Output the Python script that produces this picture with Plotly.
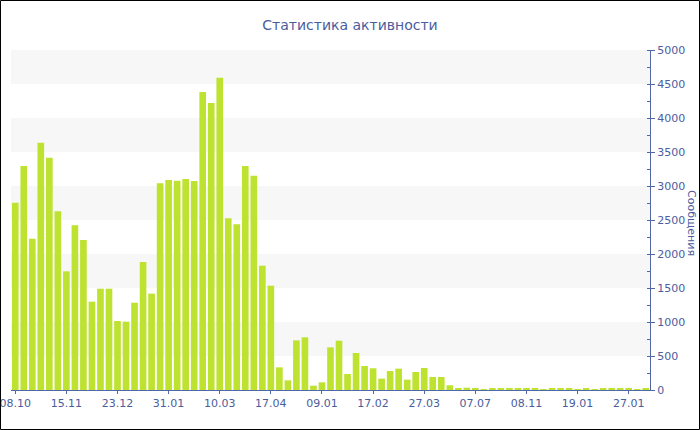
import plotly.graph_objects as go

# ---- data ----
values = [
    2755, 3294, 2225, 3637, 3417, 2627, 1745, 2422, 2206, 1299,
    1490, 1490, 1015, 1005, 1284, 1882, 1417, 3039, 3088, 3078,
    3103, 3074, 4382, 4221, 4593, 2525, 2436,
    3294, 3152, 1828, 1534, 333, 142, 730, 775, 64,
    113, 627, 725, 235, 544, 353, 319, 167, 279, 314,
    152, 265, 324, 191, 191, 69, 20, 34,
    15, 12, 15, 18, 15, 20, 30, 15, 12, 15,
    18, 15, 12, 15, 12, 18, 30, 20, 15, 12, 18,
]
tick_labels = ["08.10", "15.11", "23.12", "31.01", "10.03", "17.04", "09.01",
               "17.02", "27.03", "07.07", "08.11", "19.01", "27.01"]
tick_every = 6
y_max = 5000
band_step = 500
title_text = "Статистика активности"
y_title = "Сообщения"

positions = list(range(len(values)))
tick_positions = positions[::tick_every][:len(tick_labels)]

TEXT = "#4a5d9e"
AXIS = "#5068a8"
FONT = "DejaVu Sans"

fig = go.Figure()
fig.add_trace(go.Bar(
    x=positions, y=values,
    marker=dict(color="#bde22f", line=dict(width=0)),
    hoverinfo="y",
))

shapes = []
# alternating light bands
for lo in range(band_step, y_max, band_step * 2):
    shapes.append(dict(type="rect", xref="paper", yref="y", x0=0, x1=1,
                       y0=lo, y1=lo + band_step, fillcolor="#f7f7f7",
                       line=dict(width=0), layer="below"))

L, R, T, B = 11, 50, 50, 40
W, H = 700, 430
pw, ph = W - L - R, H - T - B
# outer black border around the whole picture
shapes.append(dict(type="rect", xref="paper", yref="paper",
                   x0=(0.5 - L) / pw, x1=(W - 0.5 - L) / pw,
                   y0=(ph + T - (H - 0.5)) / ph, y1=(ph + T - 0.5) / ph,
                   line=dict(color="black", width=1), fillcolor="rgba(0,0,0,0)"))

fig.update_layout(
    width=W, height=H,
    margin=dict(l=L, r=R, t=T, b=B, autoexpand=False),
    paper_bgcolor="white", plot_bgcolor="white",
    font=dict(family=FONT, size=11, color=TEXT),
    title=dict(text=title_text, x=0.5, xref="container", xanchor="center",
               y=1 - 25 / H, yanchor="middle", automargin=False,
               font=dict(family=FONT, size=14, color=TEXT)),
    bargap=0.22,
    showlegend=False,
    shapes=shapes,
    annotations=[dict(text=y_title, xref="paper", yref="paper",
                      x=(692 - L) / pw, y=(T + ph - 223) / ph,
                      xanchor="center", yanchor="middle", textangle=90,
                      showarrow=False, font=dict(family=FONT, size=11, color=TEXT))],
    xaxis=dict(
        range=[-0.5, len(values) - 0.5], automargin=False,
        tickmode="array", tickvals=tick_positions, ticktext=tick_labels,
        ticklabeloverflow="allow",
        showgrid=False, zeroline=False,
        showline=True, linecolor=AXIS, linewidth=1,
        ticks="outside", ticklen=3, tickcolor=AXIS,
        tickfont=dict(family=FONT, size=11, color=TEXT),
    ),
    yaxis=dict(
        side="right", range=[0, y_max], automargin=False,
        tickmode="linear", tick0=0, dtick=500,
        showgrid=False, zeroline=False,
        showline=True, linecolor=AXIS, linewidth=1,
        ticks="outside", ticklen=4, tickcolor=AXIS,
        minor=dict(dtick=250, ticks="inside", ticklen=3, tickcolor=AXIS, showgrid=False),
        tickfont=dict(family=FONT, size=11, color=TEXT),
    ),
)

fig.write_html("out.html",
               config={"displayModeBar": False},
               post_script="document.body.style.margin='0';document.body.style.overflow='hidden';")
